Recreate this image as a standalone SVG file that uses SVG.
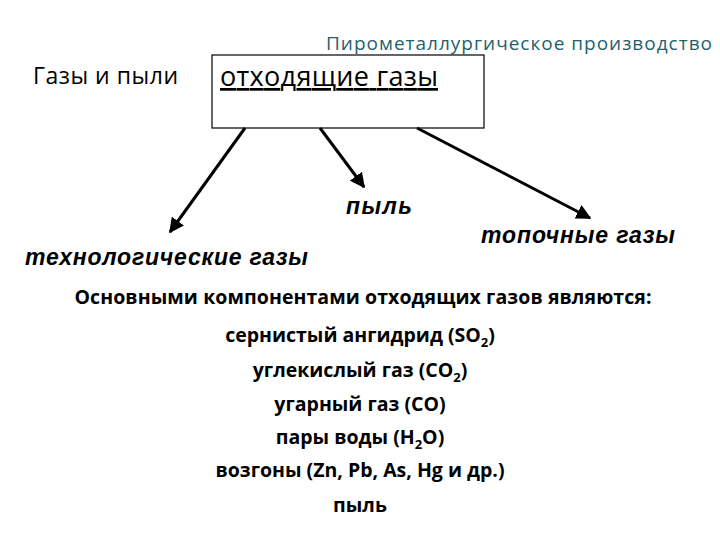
<svg xmlns="http://www.w3.org/2000/svg" width="720" height="540" viewBox="0 0 720 540">
<style>
.s{font-family:"Open Sans","Liberation Sans",sans-serif;fill:#000}
.b{font-family:"Open Sans","Liberation Sans",sans-serif;font-weight:bold;font-size:19.5px;fill:#000}
.i{font-family:"Liberation Sans",sans-serif;font-weight:bold;font-style:italic;font-size:23px;fill:#000}
.a{stroke:#000;stroke-width:3;fill:none;marker-end:url(#ah)}
</style>
<defs><marker id="ah" viewBox="0 0 10 10" refX="9" refY="5" markerWidth="5" markerHeight="5" orient="auto"><path d="M0,0L10,5L0,10z" fill="#000"/></marker></defs>
<rect width="720" height="540" fill="#fff"/>
<text class="s" x="326" y="50" font-size="19" style="fill:#1f5f6e" textLength="386">Пирометаллургическое производство</text>
<text class="s" x="33" y="84" font-size="23" textLength="145">Газы и пыли</text>
<g id="box"><rect x="212" y="55" width="272" height="73" fill="#fff" stroke="#000" stroke-width="1.2"/>
<text class="s" x="220" y="86" font-size="27" text-decoration="underline" textLength="218">отходящие газы</text></g>
<g id="conn">
<path class="a" d="M245,128L170,232"/>
<path class="a" d="M320,128L364,187"/>
<path class="a" d="M417,128L590,218"/>
</g>
<g id="n1"><text class="i" x="25" y="265" textLength="283">технологические газы</text></g>
<g id="n2"><text class="i" x="346" y="214" textLength="66">пыль</text></g>
<g id="n3"><text class="i" x="481" y="243" textLength="194">топочные газы</text></g>
<g id="list" text-anchor="middle">
<text class="b" x="363" y="304" textLength="577">Основными компонентами отходящих газов являются:</text>
<text class="b" x="360" y="342">сернистый ангидрид (SO<tspan font-size="13" dy="5">2</tspan><tspan dy="-5">)</tspan></text>
<text class="b" x="360" y="377">углекислый газ (CO<tspan font-size="13" dy="5">2</tspan><tspan dy="-5">)</tspan></text>
<text class="b" x="360" y="411">угарный газ (CO)</text>
<text class="b" x="360" y="444">пары воды (H<tspan font-size="13" dy="5">2</tspan><tspan dy="-5">O)</tspan></text>
<text class="b" x="360" y="477">возгоны (Zn, Pb,  As, Hg и др.)</text>
<text class="b" x="360" y="512">пыль</text>
</g>
</svg>
